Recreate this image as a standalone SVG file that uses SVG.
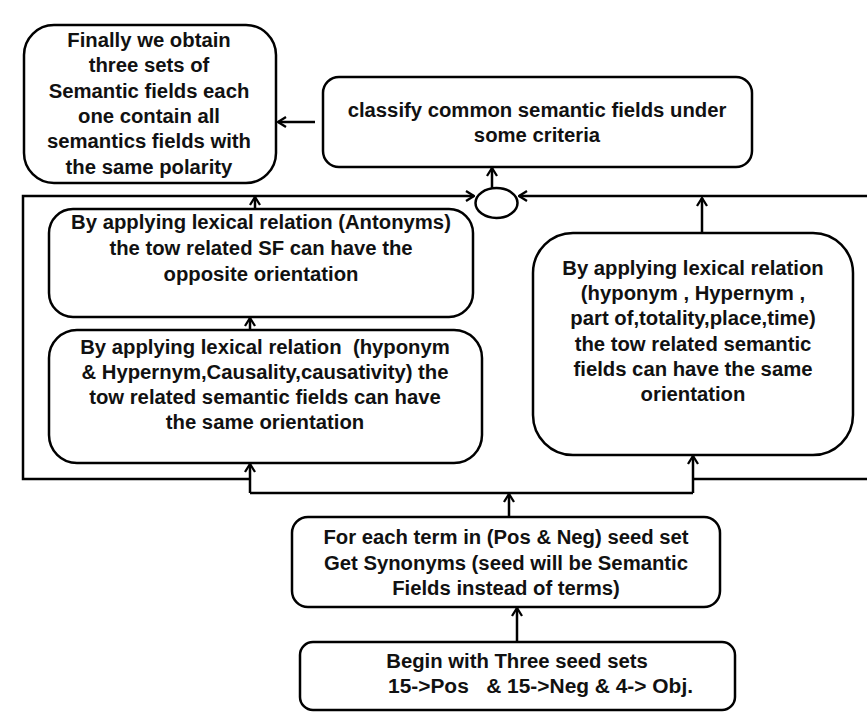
<svg xmlns="http://www.w3.org/2000/svg" width="867" height="713" viewBox="0 0 867 713">
<style>
.box{fill:#fff;stroke:#000;stroke-width:2.5}
.t{font-family:"Liberation Sans",Arial,sans-serif;font-weight:bold;font-size:20.3px;fill:#111;text-anchor:middle;white-space:pre}
.c{fill:none;stroke:#000;stroke-width:2.5}
</style>
<defs>
<marker id="arr" viewBox="0 0 10 12" refX="9" refY="6" markerWidth="10" markerHeight="12" orient="auto" markerUnits="userSpaceOnUse">
<path d="M1,1 L9,6 L1,11" fill="none" stroke="#000" stroke-width="2.3"/>
</marker>
</defs>
<rect width="867" height="713" fill="#fff"/>
<g id="connectors">
<path class="c" d="M315,122 H278" marker-end="url(#arr)"/>
<path class="c" d="M492,188 V168" marker-end="url(#arr)"/>
<path class="c" d="M250,479 H23 V196 H474" marker-end="url(#arr)"/>
<path class="c" d="M867,196 H519" marker-end="url(#arr)"/>
<path class="c" d="M867,479 H693"/>
<path class="c" d="M255,209 V197" marker-end="url(#arr)"/>
<path class="c" d="M250,330 V318" marker-end="url(#arr)"/>
<path class="c" d="M250,493 H693"/>
<path class="c" d="M250,493 V464" marker-end="url(#arr)"/>
<path class="c" d="M693,493 V456" marker-end="url(#arr)"/>
<path class="c" d="M509,517 V494" marker-end="url(#arr)"/>
<path class="c" d="M702,233 V198" marker-end="url(#arr)"/>
<path class="c" d="M517,642 V608" marker-end="url(#arr)"/>
</g>
<g id="merge"><ellipse class="box" cx="496.5" cy="203" rx="21" ry="15"/></g>
<g id="final">
<rect class="box" x="24" y="25" width="252" height="158" rx="30"/>
<text class="t" x="149" y="46.5">Finally we obtain</text>
<text class="t" x="149" y="72">three sets of</text>
<text class="t" x="149" y="97.5">Semantic fields each</text>
<text class="t" x="149" y="122.5">one contain all</text>
<text class="t" x="149" y="148">semantics fields with</text>
<text class="t" x="149" y="173.5">the same polarity</text>
</g>
<g id="classify">
<rect class="box" x="323" y="77" width="429" height="90" rx="16"/>
<text class="t" x="537" y="117">classify common semantic fields under</text>
<text class="t" x="537" y="142">some criteria</text>
</g>
<g id="antonyms">
<rect class="box" x="49" y="209" width="424" height="108" rx="24"/>
<text class="t" x="261" y="229">By applying lexical relation (Antonyms)</text>
<text class="t" x="261" y="255">the tow related SF can have the</text>
<text class="t" x="261" y="281">opposite orientation</text>
</g>
<g id="hyponym">
<rect class="box" x="49" y="330" width="433" height="133" rx="28"/>
<text class="t" x="265" y="353.5">By applying lexical relation  (hyponym</text>
<text class="t" x="265" y="378.5">&amp; Hypernym,Causality,causativity) the</text>
<text class="t" x="265" y="403.5">tow related semantic fields can have</text>
<text class="t" x="265" y="428.5">the same orientation</text>
</g>
<g id="partof">
<rect class="box" x="533" y="233" width="320" height="222" rx="40"/>
<text class="t" x="693" y="275">By applying lexical relation</text>
<text class="t" x="693" y="300">(hyponym , Hypernym ,</text>
<text class="t" x="693" y="325">part of,totality,place,time)</text>
<text class="t" x="693" y="350.5">the tow related semantic</text>
<text class="t" x="693" y="376">fields can have the same</text>
<text class="t" x="693" y="401">orientation</text>
</g>
<g id="synonyms">
<rect class="box" x="292" y="517" width="428" height="90" rx="16"/>
<text class="t" x="506" y="543.5">For each term in (Pos &amp; Neg) seed set</text>
<text class="t" x="506" y="569.5">Get Synonyms (seed will be Semantic</text>
<text class="t" x="506" y="595">Fields instead of terms)</text>
</g>
<g id="begin">
<rect class="box" x="300" y="642" width="435" height="68" rx="13"/>
<text class="t" x="517" y="668">Begin with Three seed sets</text>
<text class="t" x="388" y="693" style="text-anchor:start" textLength="305" lengthAdjust="spacingAndGlyphs">15-&gt;Pos   &amp; 15-&gt;Neg &amp; 4-&gt; Obj.</text>
</g>
</svg>
